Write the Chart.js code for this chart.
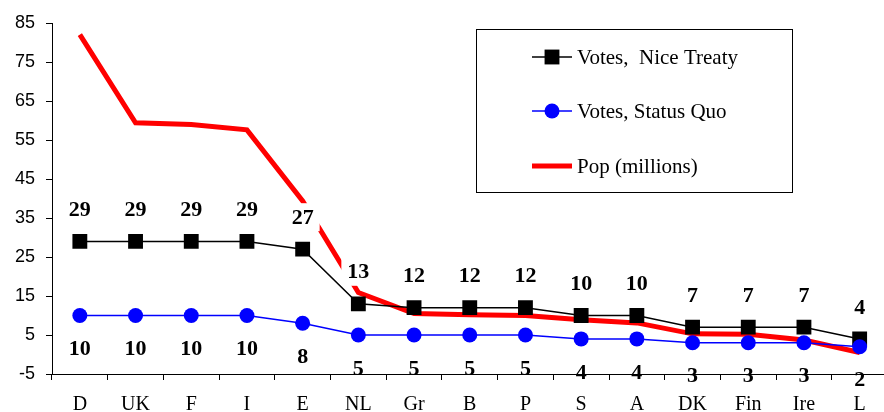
<!DOCTYPE html>
<html>
<head>
<meta charset="utf-8">
<title>EU votes and population</title>
<script src="https://cdn.jsdelivr.net/npm/chart.js@4/dist/chart.umd.min.js"></script>
<style>
  html, body { margin: 0; padding: 0; background: #fff; overflow: hidden; }
  #wrap { width: 898px; height: 412px; }
</style>
</head>
<body>
<!-- the plot runs slightly past the window's right edge, so the canvas is a little wider -->
<div id="wrap"><canvas id="votes-chart" width="898" height="412"></canvas></div>
<script>
// Member states, ordered by population
const categories = ['D', 'UK', 'F', 'I', 'E', 'NL', 'Gr', 'B', 'P', 'S', 'A', 'DK', 'Fin', 'Ire', 'L'];
// Council votes under the Nice Treaty and under the old weighting
const votesNice = [29, 29, 29, 29, 27, 13, 12, 12, 12, 10, 10, 7, 7, 7, 4];
const votesStatusQuo = [10, 10, 10, 10, 8, 5, 5, 5, 5, 4, 4, 3, 3, 3, 2];
// Population in millions
const popMillions = [82.0, 59.4, 59.0, 57.6, 39.4, 15.9, 10.5, 10.2, 10.0, 8.9, 8.1, 5.3, 5.2, 3.7, 0.5];
// Y axis range
const yMin = -5;
const yMax = 85;
const yStep = 10;

const serif = "'Liberation Serif', 'Times New Roman', serif";
const sans = "'Liberation Sans', Arial, sans-serif";

// Value labels above (Nice) and below (status quo) the markers
const valueLabels = {
  id: 'valueLabels',
  afterDatasetsDraw(chart) {
    const ctx = chart.ctx;
    ctx.save();
    ctx.font = 'bold 22px ' + serif;
    ctx.textAlign = 'center';
    ctx.textBaseline = 'middle';
    chart.data.datasets.forEach((ds, i) => {
      if (ds.labelOffset === undefined) return;
      const meta = chart.getDatasetMeta(i);
      meta.data.forEach((pt, j) => {
        const text = String(ds.data[j]);
        const x = pt.x;
        const y = pt.y + ds.labelOffset;
        if (ds.labelBox) {
          // white patch so the label sits cleanly over the lines behind it
          const w = ctx.measureText(text).width;
          ctx.fillStyle = '#fff';
          ctx.fillRect(x - w / 2 - 6, y - 14, w + 12, 28);
        }
        ctx.fillStyle = '#000';
        ctx.fillText(text, x, y + 1);
      });
    });
    ctx.restore();
  }
};

// Boxed legend drawn inside the plot
const boxLegend = {
  id: 'boxLegend',
  afterDraw(chart) {
    const ctx = chart.ctx;
    const box = { x: 476.5, y: 29.5, w: 316, h: 163 };
    const rows = [57, 111, 166];
    ctx.save();
    ctx.strokeStyle = '#000';
    ctx.lineWidth = 1;
    ctx.strokeRect(box.x, box.y, box.w, box.h);
    ctx.font = '21px ' + serif;
    ctx.textBaseline = 'middle';
    ctx.textAlign = 'left';
    chart.data.datasets.forEach((ds, i) => {
      const y = rows[i];
      ctx.strokeStyle = ds.borderColor;
      ctx.lineWidth = ds.borderWidth;
      ctx.beginPath();
      ctx.moveTo(532, y);
      ctx.lineTo(572, y);
      ctx.stroke();
      if (ds.pointRadius > 0) {
        ctx.fillStyle = ds.pointBackgroundColor;
        if (ds.pointStyle === 'rect') {
          const s = Math.SQRT1_2 * ds.pointRadius;
          ctx.fillRect(552 - s, y - s, 2 * s, 2 * s);
        } else {
          ctx.beginPath();
          ctx.arc(552, y, ds.pointRadius, 0, Math.PI * 2);
          ctx.fill();
        }
      }
      ctx.fillStyle = '#000';
      ctx.fillText(ds.label, 577, y + 1);
    });
    ctx.restore();
  }
};

new Chart(document.getElementById('votes-chart'), {
  type: 'line',
  data: {
    labels: categories,
    datasets: [
      {
        label: 'Votes,  Nice Treaty',
        data: votesNice,
        borderColor: '#000',
        backgroundColor: '#000',
        pointBackgroundColor: '#000',
        pointBorderColor: '#000',
        borderWidth: 1.5,
        pointStyle: 'rect',
        pointRadius: 10.5,
        pointBorderWidth: 0,
        tension: 0,
        order: 2,
        labelOffset: -32,
        labelBox: true
      },
      {
        label: 'Votes, Status Quo',
        data: votesStatusQuo,
        borderColor: '#0000ff',
        backgroundColor: '#0000ff',
        pointBackgroundColor: '#0000ff',
        pointBorderColor: '#0000ff',
        borderWidth: 1.5,
        pointStyle: 'circle',
        pointRadius: 7.5,
        pointBorderWidth: 0,
        tension: 0,
        order: 1,
        labelOffset: 33,
        labelBox: false
      },
      {
        label: 'Pop (millions)',
        data: popMillions,
        borderColor: '#ff0000',
        backgroundColor: '#ff0000',
        borderWidth: 5,
        pointRadius: 0,
        tension: 0,
        order: 3
      }
    ]
  },
  options: {
    responsive: false,
    animation: false,
    devicePixelRatio: 1,
    layout: { padding: { top: 23, left: 0, right: 0, bottom: 0 } },
    plugins: {
      legend: { display: false },
      tooltip: { enabled: false }
    },
    scales: {
      x: {
        offset: true,
        grid: { offset: true, drawOnChartArea: false, drawTicks: true, tickLength: 6, color: '#000' },
        border: { color: '#000', width: 1 },
        ticks: { color: '#000', font: { family: serif, size: 20 }, padding: 13, maxRotation: 0 },
        afterFit(scale) { scale.height = 38; }
      },
      y: {
        min: yMin,
        max: yMax,
        grid: { drawOnChartArea: false, drawTicks: true, tickLength: 6, color: '#000' },
        border: { color: '#000', width: 1 },
        ticks: { stepSize: yStep, color: '#000', font: { family: sans, size: 18 }, padding: 11 },
        afterFit(scale) { scale.width = 52; }
      }
    }
  },
  plugins: [valueLabels, boxLegend]
});
</script>
</body>
</html>
